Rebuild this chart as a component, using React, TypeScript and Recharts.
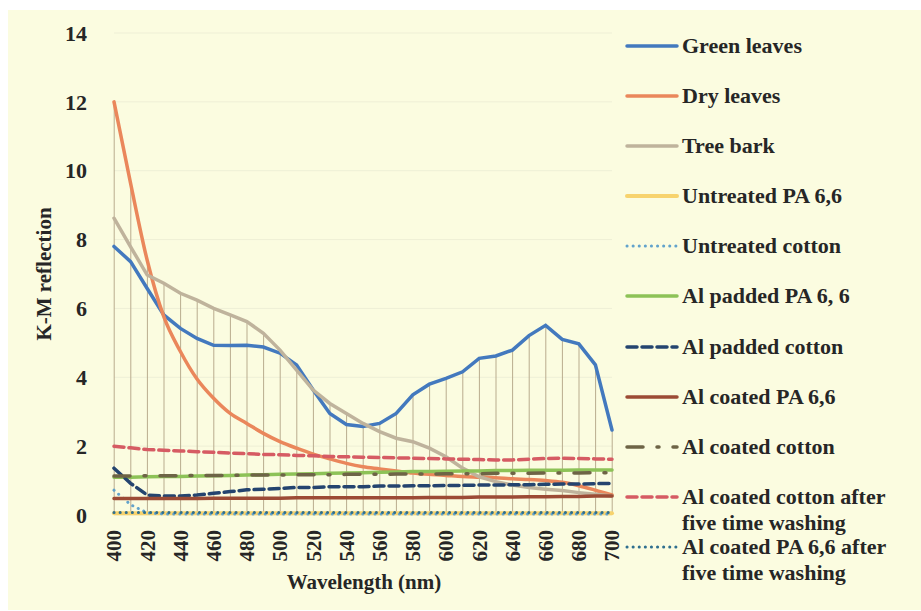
import React from "react";
import { Bar, CartesianGrid, ComposedChart, Legend, Line, XAxis, YAxis } from "recharts";

document.body.style.margin = "0";

const wavelengths = [
  400, 410, 420, 430, 440, 450, 460, 470, 480, 490, 500, 510, 520, 530, 540, 550, 560, 570, 580, 590,
  600, 610, 620, 630, 640, 650, 660, 670, 680, 690, 700,
];
const xTicks = [400, 420, 440, 460, 480, 500, 520, 540, 560, 580, 600, 620, 640, 660, 680, 700];
const yTicks = [0, 2, 4, 6, 8, 10, 12, 14];

const greenLeaves = [
  7.8, 7.36, 6.58, 5.81, 5.42, 5.13, 4.93, 4.92, 4.93, 4.88, 4.7, 4.36, 3.63, 2.95, 2.63, 2.57, 2.66,
  2.95, 3.49, 3.8, 3.97, 4.16, 4.55, 4.62, 4.79, 5.21, 5.51, 5.1, 4.97, 4.36, 2.47,
];
const dryLeaves = [
  12.0, 9.63, 7.4, 5.76, 4.75, 3.95, 3.39, 2.95, 2.66, 2.37, 2.13, 1.94, 1.77, 1.63, 1.5, 1.4, 1.34,
  1.28, 1.22, 1.18, 1.15, 1.12, 1.1, 1.08, 1.05, 1.03, 1.0, 0.95, 0.85, 0.72, 0.58,
];
const treeBark = [
  8.62, 7.79, 6.97, 6.73, 6.44, 6.24, 6.0, 5.81, 5.62, 5.28, 4.79, 4.21, 3.63, 3.24, 2.95, 2.66, 2.42,
  2.23, 2.13, 1.94, 1.69, 1.36, 1.11, 0.97, 0.87, 0.8, 0.75, 0.71, 0.65, 0.6, 0.55,
];
const untreatedPA = [
  0.05, 0.05, 0.05, 0.05, 0.05, 0.05, 0.05, 0.05, 0.05, 0.05, 0.05, 0.05, 0.05, 0.05, 0.05, 0.05, 0.05,
  0.05, 0.05, 0.05, 0.05, 0.05, 0.05, 0.05, 0.05, 0.05, 0.05, 0.05, 0.05, 0.05, 0.05,
];
const untreatedCotton = [
  0.72, 0.3, 0.06, 0.03, 0.03, 0.03, 0.03, 0.03, 0.03, 0.03, 0.03, 0.03, 0.03, 0.03, 0.03, 0.03, 0.03,
  0.03, 0.03, 0.03, 0.03, 0.03, 0.03, 0.03, 0.03, 0.03, 0.03, 0.03, 0.03, 0.03, 0.03,
];
const alPaddedPA = [
  1.1, 1.1, 1.11, 1.12, 1.12, 1.13, 1.14, 1.15, 1.16, 1.17, 1.18, 1.19, 1.2, 1.21, 1.22, 1.23, 1.24,
  1.25, 1.26, 1.26, 1.27, 1.28, 1.28, 1.29, 1.29, 1.3, 1.3, 1.3, 1.31, 1.31, 1.31,
];
const alPaddedCotton = [
  1.36, 0.92, 0.58, 0.55, 0.55, 0.58, 0.63, 0.68, 0.73, 0.75, 0.77, 0.8, 0.8, 0.82, 0.82, 0.82, 0.84,
  0.84, 0.85, 0.85, 0.86, 0.86, 0.87, 0.87, 0.88, 0.88, 0.89, 0.9, 0.9, 0.91, 0.92,
];
const alCoatedPA = [
  0.48, 0.48, 0.48, 0.48, 0.48, 0.48, 0.49, 0.49, 0.49, 0.49, 0.49, 0.5, 0.5, 0.5, 0.5, 0.5, 0.5, 0.5,
  0.5, 0.51, 0.51, 0.51, 0.52, 0.52, 0.52, 0.53, 0.53, 0.54, 0.54, 0.55, 0.55,
];
const alCoatedCotton = [
  1.13, 1.13, 1.14, 1.14, 1.14, 1.15, 1.15, 1.15, 1.16, 1.16, 1.16, 1.17, 1.17, 1.17, 1.18, 1.18, 1.18,
  1.19, 1.19, 1.19, 1.2, 1.2, 1.2, 1.21, 1.21, 1.21, 1.22, 1.22, 1.22, 1.23, 1.23,
];
const alCoatedCottonWashed = [
  2.0, 1.95, 1.9, 1.88, 1.86, 1.84, 1.82, 1.8, 1.78, 1.76, 1.75, 1.73, 1.72, 1.7, 1.69, 1.68, 1.67,
  1.66, 1.65, 1.64, 1.63, 1.62, 1.61, 1.6, 1.6, 1.62, 1.64, 1.65, 1.64, 1.63, 1.62,
];
const alCoatedPAWashed = [
  0.07, 0.07, 0.07, 0.07, 0.07, 0.07, 0.07, 0.07, 0.07, 0.07, 0.07, 0.07, 0.07, 0.07, 0.07, 0.07, 0.07,
  0.07, 0.07, 0.07, 0.07, 0.07, 0.07, 0.07, 0.07, 0.07, 0.07, 0.07, 0.07, 0.07, 0.07,
];

type Series = {
  key: string;
  name: string[];
  values: number[];
  color: string;
  width: number;
  dash?: string;
};

const SERIES: Series[] = [
  { key: "greenLeaves", name: ["Green leaves"], values: greenLeaves, color: "#4379BE", width: 3.5 },
  { key: "dryLeaves", name: ["Dry leaves"], values: dryLeaves, color: "#EA875B", width: 3.5 },
  { key: "treeBark", name: ["Tree bark"], values: treeBark, color: "#BFB39C", width: 3.5 },
  { key: "untreatedPA", name: ["Untreated PA 6,6"], values: untreatedPA, color: "#F7D36E", width: 4 },
  { key: "untreatedCotton", name: ["Untreated cotton"], values: untreatedCotton, color: "#62A3CC", width: 3, dash: "0.1 6" },
  { key: "alPaddedPA", name: ["Al padded PA 6, 6"], values: alPaddedPA, color: "#8DC257", width: 3.5 },
  { key: "alPaddedCotton", name: ["Al padded cotton"], values: alPaddedCotton, color: "#24446F", width: 3.5, dash: "10 5" },
  { key: "alCoatedPA", name: ["Al coated PA 6,6"], values: alCoatedPA, color: "#9C4B35", width: 3.5 },
  { key: "alCoatedCotton", name: ["Al coated cotton"], values: alCoatedCotton, color: "#6E6446", width: 3.5, dash: "16 14 2 14" },
  {
    key: "alCoatedCottonWashed",
    name: ["Al coated cotton after", "five time washing"],
    values: alCoatedCottonWashed,
    color: "#D65B63",
    width: 3.5,
    dash: "10 5",
  },
  {
    key: "alCoatedPAWashed",
    name: ["Al coated PA 6,6 after", "five time washing"],
    values: alCoatedPAWashed,
    color: "#2F6F8F",
    width: 3,
    dash: "0.1 6",
  },
];

const data = wavelengths.map((w, i) => {
  const row: Record<string, number> = { wavelength: w };
  SERIES.forEach((s) => {
    row[s.key] = s.values[i];
  });
  row.peak = Math.max(...SERIES.map((s) => s.values[i]));
  return row;
});

const FONT = '"Liberation Serif", "Times New Roman", serif';
const TEXT = "#262626";

const XTick = ({ x, payload }: any) => (
  <text
    x={x}
    y={530}
    dy="0.35em"
    transform={`rotate(-90 ${x} 530)`}
    textAnchor="end"
    fontFamily={FONT}
    fontWeight="bold"
    fontSize={21}
    fill={TEXT}
  >
    {payload.value}
  </text>
);

const YTick = ({ y, payload }: any) => (
  <text x={87} y={y} dy="0.35em" textAnchor="end" fontFamily={FONT} fontWeight="bold" fontSize={22} fill={TEXT}>
    {payload.value}
  </text>
);

function LegendBox() {
  return (
    <div style={{ fontFamily: FONT, fontWeight: "bold", fontSize: 22, color: TEXT }}>
      {SERIES.map((s) => (
        <div key={s.key} style={{ position: "relative", height: 50.1 }}>
          <svg width={56} height={10} style={{ position: "absolute", left: 4, top: 20 }}>
            <line
              x1={3}
              y1={5}
              x2={53}
              y2={5}
              stroke={s.color}
              strokeWidth={s.width}
              strokeDasharray={s.dash}
              strokeLinecap="round"
            />
          </svg>
          <div style={{ position: "absolute", left: 62, top: 12, lineHeight: "26px", whiteSpace: "nowrap" }}>
            {s.name.map((n) => (
              <div key={n}>{n}</div>
            ))}
          </div>
        </div>
      ))}
    </div>
  );
}

export default function App() {
  return (
    <div style={{ position: "relative", width: 921, height: 611, background: "#ffffff" }}>
      <div style={{ position: "absolute", left: 8, top: 10, right: 0, bottom: 1, background: "#FBFCE0" }} />
      <div style={{ position: "absolute", left: 0, top: 0 }}>
        <ComposedChart width={921} height={611} data={data} margin={{ top: 33, right: 309, bottom: 0, left: 0 }}>
          <CartesianGrid vertical={false} stroke="#EEEFD6" />
          <XAxis
            dataKey="wavelength"
            type="number"
            domain={[400, 700]}
            ticks={xTicks}
            height={96}
            axisLine={false}
            tickLine={false}
            tick={<XTick />}
            label={{
              content: () => (
                <text x={364} y={582} dy="0.35em" textAnchor="middle" fontFamily={FONT} fontWeight="bold" fontSize={21} fill={TEXT}>
                  Wavelength (nm)
                </text>
              ),
            }}
          />
          <YAxis
            domain={[0, 14]}
            ticks={yTicks}
            width={114}
            axisLine={false}
            tickLine={false}
            tick={<YTick />}
            label={{
              content: () => (
                <text
                  x={44}
                  y={274}
                  dy="0.35em"
                  transform="rotate(-90 44 274)"
                  textAnchor="middle"
                  fontFamily={FONT}
                  fontWeight="bold"
                  fontSize={21}
                  fill={TEXT}
                >
                  K-M reflection
                </text>
              ),
            }}
          />
          <Bar dataKey="peak" barSize={1} fill="#B9AC8E" isAnimationActive={false} legendType="none" />
          {SERIES.map((s) => (
            <Line
              key={s.key}
              dataKey={s.key}
              name={s.name.join(" ")}
              type={s.key === "dryLeaves" ? "monotone" : "linear"}
              stroke={s.color}
              strokeWidth={s.width}
              strokeDasharray={s.dash}
              strokeLinecap="round"
              dot={false}
              activeDot={false}
              isAnimationActive={false}
            />
          ))}
          <Legend
            layout="vertical"
            align="center"
            verticalAlign="middle"
            wrapperStyle={{ left: 620, top: 21, width: 300 }}
            content={() => <LegendBox />}
          />
        </ComposedChart>
      </div>
    </div>
  );
}
